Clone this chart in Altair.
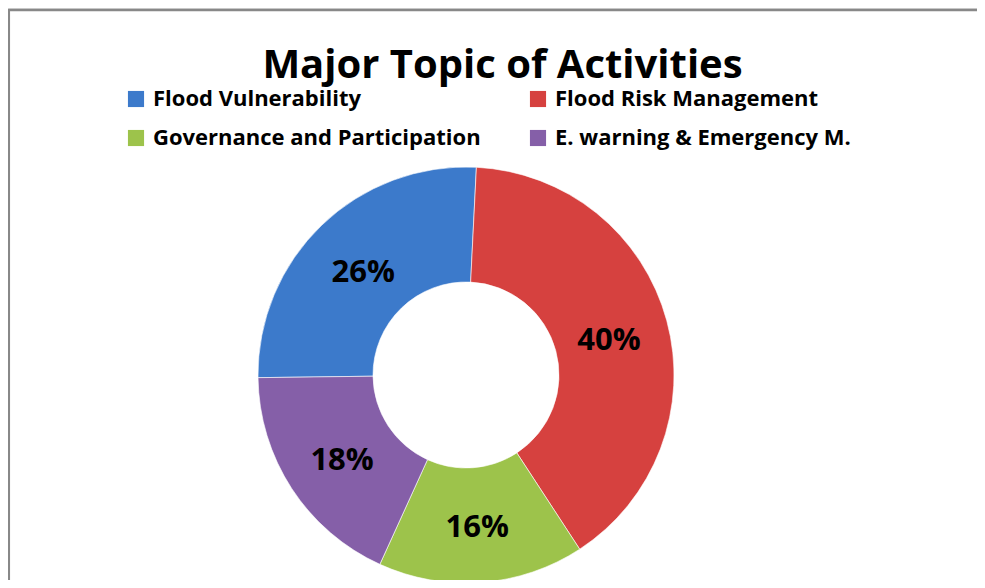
import altair as alt
import pandas as pd

categories = ["Flood Vulnerability", "Flood Risk Management",
              "Governance and Participation", "E. warning & Emergency M."]
shares = [26, 40, 16, 18]
slice_order = [4, 1, 2, 3]          # clockwise position starting at 12 o'clock
labels = ["26%", "40%", "16%", "18%"]
colors = ["#3c7acb", "#d6413f", "#9dc34b", "#855fa8"]
title_text = "Major Topic of Activities"

df = pd.DataFrame({"topic": categories, "share": shares,
                   "slice": slice_order, "label": labels})

FONT = "Open Sans"
CX, CY = 458, 367   # pie centre within the plot area

base = alt.Chart(df).encode(
    theta=alt.Theta("share:Q", stack=True,
                    scale=alt.Scale(range=[0.05, 6.3332])),
    order=alt.Order("slice:Q"),
)

arcs = base.mark_arc(outerRadius=208, innerRadius=93,
                     stroke="#ffffff", strokeWidth=0.6).encode(
    x=alt.value(CX), y=alt.value(CY),
    color=alt.Color(
        "topic:N",
        scale=alt.Scale(domain=categories, range=colors),
        legend=alt.Legend(
            title=None, orient="none", legendX=117, legendY=80,
            columns=2, direction="horizontal", symbolType="square",
            symbolSize=260, symbolStrokeWidth=0, labelFont=FONT,
            labelFontSize=22, labelFontWeight="bold", labelColor="#000000",
            labelOffset=6, rowPadding=17, columnPadding=46,
            padding=0, labelLimit=500,
        ),
    ),
)

texts = base.mark_text(radius=148, font=FONT, fontSize=31, dy=5,
                       fontWeight="bold", color="#000000").encode(
    x=alt.value(CX), y=alt.value(CY),
    text="label:N",
)

frame_df = pd.DataFrame({"k": [0]})
left_rule = alt.Chart(frame_df).mark_rule(color="#888888", strokeWidth=2.5).encode(
    x=alt.value(0.8), y=alt.value(1), y2=alt.value(580))
top_rule = alt.Chart(frame_df).mark_rule(color="#888888", strokeWidth=2.5).encode(
    x=alt.value(-0.5), x2=alt.value(977), y=alt.value(2))

chart = alt.layer(left_rule, top_rule, arcs, texts).properties(
    width=969, height=572,
    autosize=alt.AutoSizeParams(type="none"),
    padding=0,
    title=alt.TitleParams(title_text, font=FONT, fontSize=40, fontWeight="bold",
                          color="#000000", anchor="middle", baseline="alphabetic",
                          offset=0, dy=110, dx=10),
).configure_view(strokeWidth=0).configure(background="#ffffff")

chart.save("out.html", embed_options={"renderer": "svg", "actions": False})
